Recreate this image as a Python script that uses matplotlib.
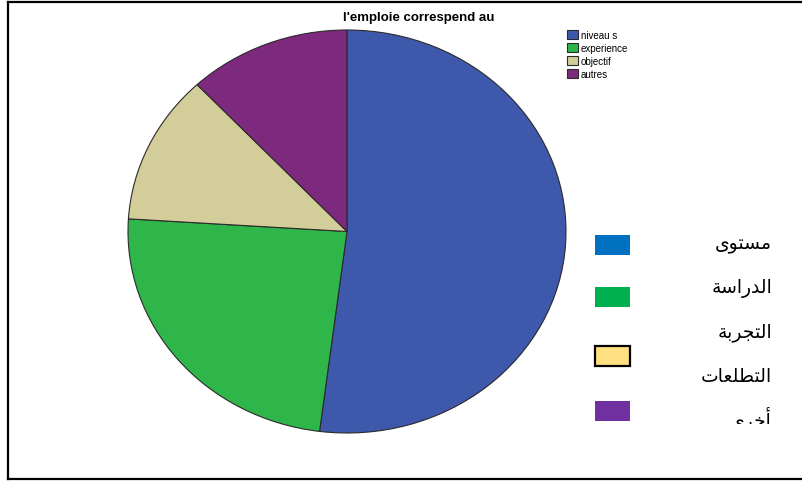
import matplotlib
matplotlib.use("Agg")
import matplotlib.pyplot as plt
from matplotlib.patches import Rectangle
from matplotlib.lines import Line2D
from matplotlib.transforms import Bbox, TransformedBbox

# answers to "l'emploie correspend au"
labels = ["niveau s", "experience", "objectif", "autres"]
counts = [26, 12, 6, 6]
pie_colors = ["#3E58AC", "#2FB64A", "#D3CD99", "#7D297D"]

# arabic key on the right (pre-shaped presentation forms, visual order,
# because matplotlib does no arabic shaping)
key_lines = [
    "\uFEEF\uFEEE\uFE98\uFEB4\uFEE3",                      # مستوى
    "\uFE94\uFEB3\uFE8D\uFEAD\uFEAA\uFEDF\uFE8D",          # الدراسة
    "\uFE94\uFE91\uFEAE\uFEA0\uFE98\uFEDF\uFE8D",          # التجربة
    "\uFE95\uFE8E\uFECC\uFEE0\uFEC4\uFE98\uFEDF\uFE8D",    # التطلعات
    "\uFEEF\uFEAE\uFEA7\uFE83",                            # أخرى
]
key_colors = ["#0070C0", "#00B050", "#FFE080", "#7030A0"]

W, H = 803, 485
fig = plt.figure(figsize=(W / 100, H / 100), dpi=100)


def fx(px):
    return px / W


def fy(py):
    return 1 - py / H


# pie, slightly stretched horizontally
ax = fig.add_axes([fx(128), fy(434), fx(566) - fx(128), fy(31) - fy(434)])
wedges, _ = ax.pie(counts, colors=pie_colors, startangle=90, counterclock=False,
                   wedgeprops=dict(edgecolor="#2a2a2a", linewidth=0.8))
ax.set_aspect("auto")
ax.set_xlim(-1.0, 1.0)
ax.set_ylim(-1.0, 1.0)
ax.axis("off")

fig.text(fx(419), fy(18), "l'emploie correspend au", ha="center", va="center",
         fontsize=9.5, fontweight="bold", family="Liberation Sans")

fig.legend(wedges, labels, loc="upper left", bbox_to_anchor=(fx(565), fy(29)),
           frameon=False, prop=dict(family="Liberation Sans", size=7),
           handlelength=1.15, handleheight=1.05, handletextpad=0.3,
           labelspacing=0.32, borderpad=0.2, borderaxespad=0)

# colored boxes of the arabic key
box_tops = [236, 288, 347, 402]
for c, top in zip(key_colors, box_tops):
    yellow = c == "#FFE080"
    fig.patches.append(Rectangle((fx(595), fy(top + 20)), fx(35), fy(top) - fy(top + 20),
                                 transform=fig.transFigure, facecolor=c,
                                 edgecolor="black" if yellow else c,
                                 linewidth=1.6 if yellow else 0))

text_y = [245, 288, 332, 376, 419]
clip = TransformedBbox(Bbox.from_extents(fx(560), fy(425), fx(800), fy(225)),
                       fig.transFigure)
for s, y in zip(key_lines, text_y):
    t = fig.text(fx(772), fy(y), s, ha="right", va="center", fontsize=13.5,
                 family="DejaVu Sans")
    t.set_clip_box(clip)
    t.set_clip_on(True)

# frame lines
for xs, ys in [([8, 803], [3, 3]), ([8, 8], [3, 480]), ([8, 803], [480, 480])]:
    fig.lines.append(Line2D([fx(v) for v in xs], [fy(v) for v in ys],
                            transform=fig.transFigure, color="black", linewidth=1.6))

fig.savefig("out.png", dpi=100)
